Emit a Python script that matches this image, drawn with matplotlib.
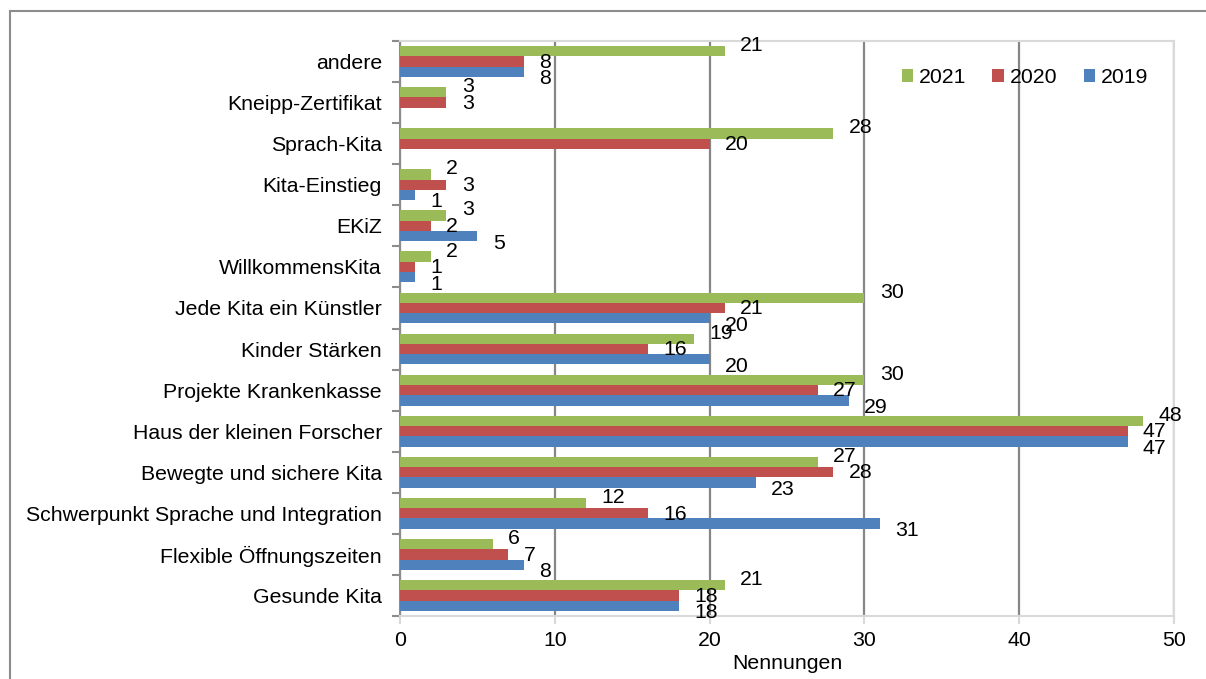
import numpy as np
import matplotlib
matplotlib.use("Agg")
import matplotlib.pyplot as plt
from matplotlib.patches import Rectangle

plt.rcParams['font.family'] = ['Liberation Sans', 'DejaVu Sans']

# Categories listed bottom to top
categories = [
    "Gesunde Kita",
    "Flexible Öffnungszeiten",
    "Schwerpunkt Sprache und Integration",
    "Bewegte und sichere Kita",
    "Haus der kleinen Forscher",
    "Projekte Krankenkasse",
    "Kinder Stärken",
    "Jede Kita ein Künstler",
    "WillkommensKita",
    "EKiZ",
    "Kita-Einstieg",
    "Sprach-Kita",
    "Kneipp-Zertifikat",
    "andere",
]
values_2021 = [21, 6, 12, 27, 48, 30, 19, 30, 2, 3, 2, 28, 3, 21]
values_2020 = [18, 7, 16, 28, 47, 27, 16, 21, 1, 2, 3, 20, 3, 8]
values_2019 = [18, 8, 31, 23, 47, 29, 20, 20, 1, 5, 1, None, None, 8]
x_ticks = [0, 10, 20, 30, 40, 50]
x_label = "Nennungen"

# (name, values, colour, bar offset, label vertical shift in points)
series = [
    ("2021", values_2021, "#9BBB59", 0.25, 4.0),
    ("2020", values_2020, "#C0504D", 0.0, -0.5),
    ("2019", values_2019, "#4F81BD", -0.25, -5.0),
]

fig = plt.figure(figsize=(12.06, 6.79), dpi=100)
fig.patch.set_facecolor("white")

# outer chart frame
fig.patches.append(Rectangle((10 / 1206, -0.05), 1.2, (679 - 11) / 679 + 0.05,
                             transform=fig.transFigure, fill=False,
                             edgecolor="#8C8C8C", linewidth=1.5, zorder=0))

ax = fig.add_axes([400 / 1206, 1 - 616 / 679, (1174 - 400) / 1206, (616 - 41) / 679])

y = np.arange(len(categories))
bar_h = 0.25
fs = 15.3

for name, vals, color, off, dy in series:
    v = np.array([np.nan if a is None else a for a in vals], dtype=float)
    ax.barh(y + off, np.nan_to_num(v), height=bar_h, color=color,
            label=name, zorder=3, edgecolor="none")
    for yi, val in zip(y + off, v):
        if np.isnan(val):
            continue
        ax.annotate(f"{int(val)}", xy=(val, yi), xytext=(11, dy),
                    textcoords="offset points", ha="left", va="center",
                    fontsize=fs, color="black", zorder=4)

ax.set_xlim(0, 50)
ax.set_ylim(-0.5, len(categories) - 0.5)
ax.set_xticks(x_ticks)
ax.set_xticklabels([str(t) for t in x_ticks], fontsize=fs)
ax.set_yticks(y)
ax.set_yticklabels(categories, fontsize=fs)
ax.set_yticks(np.arange(-0.5, len(categories), 1.0), minor=True)

ax.tick_params(axis="y", which="major", length=0, pad=13)
ax.tick_params(axis="y", which="minor", length=6, width=1.5, color="#8C8C8C", direction="out")
ax.tick_params(axis="x", which="major", length=6, width=1.5, color="#D9D9D9",
               direction="out", pad=5)

ax.grid(axis="x", color="#868686", linewidth=1.6, zorder=1)
ax.set_axisbelow(True)

ax.spines["left"].set_color("#8C8C8C")
ax.spines["left"].set_linewidth(1.5)
for s in ("top", "right", "bottom"):
    ax.spines[s].set_color("#D9D9D9")
    ax.spines[s].set_linewidth(1.5)

ax.set_xlabel(x_label, fontsize=fs, labelpad=3)

leg = ax.legend(loc="center left", bbox_to_anchor=(0.648, 0.937), ncol=3, frameon=False,
                fontsize=fs, handlelength=0.55, handleheight=0.55, handletextpad=0.25,
                columnspacing=1.25, borderpad=0, borderaxespad=0)

fig.savefig("out.png", dpi=100, facecolor="white")
